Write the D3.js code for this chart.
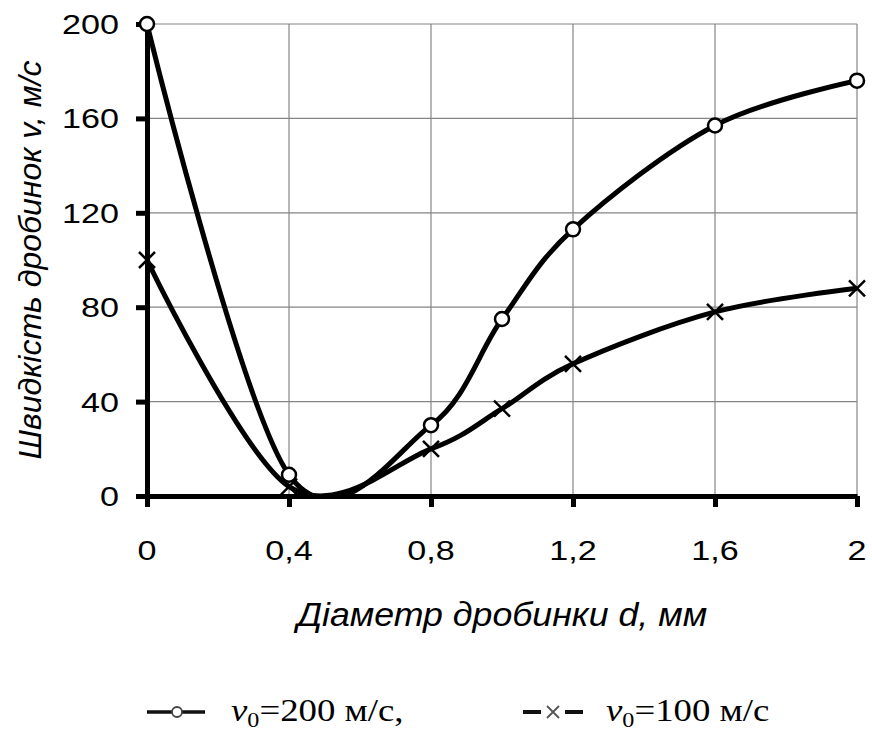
<!DOCTYPE html>
<html>
<head>
<meta charset="utf-8">
<script src="https://cdn.jsdelivr.net/npm/d3@7"></script>
<style>
  body { margin: 0; background: #fff; }
  svg { display: block; }
</style>
</head>
<body>
<div id="chart"></div>
<script>
// data
const diameters = [0, 0.4, 0.8, 1.0, 1.2, 1.6, 2.0];
const speed200 = [200, 9, 30, 75, 113, 157, 176];
const speed100 = [100, 4, 20, 37, 56, 78, 88];
const xTicks = [0, 0.4, 0.8, 1.2, 1.6, 2];
const yTicks = [0, 40, 80, 120, 160, 200];
const xTitle = 'Діаметр дробинки d, мм';
const yTitle = 'Швидкість дробинок v, м/с';
const legendLabels = ['=200 м/с,', '=100 м/с'];

const width = 872, height = 733;
const margin = { top: 24, right: 15, bottom: 237, left: 147 };
const plotW = width - margin.left - margin.right;
const plotH = height - margin.top - margin.bottom;
const STRETCH = 1.22;  // the source image is stretched sideways

const svg = d3.select('#chart').append('svg')
    .attr('width', width)
    .attr('height', height);

const x = d3.scaleLinear().domain([0, 2]).range([0, plotW]);
const y = d3.scaleLinear().domain([0, 200]).range([plotH, 0]);

const g = svg.append('g')
    .attr('transform', `translate(${margin.left},${margin.top})`);

// clip for the smoothed lines (they dip under zero)
svg.append('defs').append('clipPath')
    .attr('id', 'plot-clip')
    .append('rect')
    .attr('x', 0).attr('y', 0)
    .attr('width', plotW).attr('height', plotH);

// grid
g.selectAll('.hgrid')
    .data(yTicks.filter(d => d > 0))
    .join('line')
    .attr('class', 'hgrid')
    .attr('x1', 0).attr('x2', x(2))
    .attr('y1', d => y(d)).attr('y2', d => y(d))
    .attr('stroke', '#858585')
    .attr('stroke-width', 1.2);

g.selectAll('.vgrid')
    .data(xTicks.filter(d => d > 0))
    .join('line')
    .attr('class', 'vgrid')
    .attr('y1', 0).attr('y2', plotH)
    .attr('x1', d => x(d)).attr('x2', d => x(d))
    .attr('stroke', '#858585')
    .attr('stroke-width', 1.2);

// axes
const xAxis = g.append('g')
    .attr('transform', `translate(0,${plotH})`)
    .call(d3.axisBottom(x).tickValues(xTicks).tickSize(11).tickSizeOuter(0).tickFormat(''));
const yAxis = g.append('g')
    .call(d3.axisLeft(y).tickValues(yTicks).tickSize(11).tickSizeOuter(0).tickFormat(''));
[xAxis, yAxis].forEach(a => {
    a.select('.domain').attr('stroke', '#000').attr('stroke-width', 5);
    a.selectAll('.tick line').attr('stroke', '#000').attr('stroke-width', 5);
});

// stretched text helper
function label(parent, tx, ty, text, opts = {}) {
    return parent.append('text')
        .attr('transform', `translate(${tx},${ty}) ${opts.rotate ? 'rotate(-90) ' : ''}scale(${opts.sx || STRETCH},1)`)
        .attr('text-anchor', opts.anchor || 'middle')
        .attr('font-family', opts.family || 'Liberation Sans, Arial, sans-serif')
        .attr('font-size', opts.size || 28)
        .attr('font-style', opts.italic ? 'italic' : 'normal')
        .attr('fill', '#000')
        .text(text);
}

const fmt = d => String(d).replace('.', ',');
xTicks.forEach(d => label(g, x(d), plotH + 64, fmt(d)));
yTicks.forEach(d => label(g, -28, y(d) + 10, fmt(d), { anchor: 'end' }));

label(svg, margin.left + plotW / 2, 626, xTitle, { italic: true, size: 34, sx: 1.05 });
label(svg, 41, margin.top + plotH / 2, yTitle, { italic: true, size: 32, rotate: true, sx: 1.0 });

// lines
const line = d3.line()
    .x((d, i) => x(diameters[i]))
    .y(d => y(d))
    .curve(d3.curveCardinal.tension(0));

const series = [speed200, speed100];
g.append('g')
    .attr('clip-path', 'url(#plot-clip)')
    .selectAll('path')
    .data(series)
    .join('path')
    .attr('d', line)
    .attr('fill', 'none')
    .attr('stroke', '#000')
    .attr('stroke-width', 5);

// markers
const CROSS = 8;
g.selectAll('.cross')
    .data(speed100)
    .join('path')
    .attr('class', 'cross')
    .attr('transform', (d, i) => `translate(${x(diameters[i])},${y(d)})`)
    .attr('d', `M${-CROSS},${-CROSS}L${CROSS},${CROSS}M${-CROSS},${CROSS}L${CROSS},${-CROSS}`)
    .attr('stroke', '#000')
    .attr('stroke-width', 2.5);

g.selectAll('.circ')
    .data(speed200)
    .join('circle')
    .attr('class', 'circ')
    .attr('cx', (d, i) => x(diameters[i]))
    .attr('cy', d => y(d))
    .attr('r', 7)
    .attr('fill', '#fff')
    .attr('stroke', '#000')
    .attr('stroke-width', 2.5);

// legend
const legY = 712;
const leg = svg.append('g');
// item 1: line with circle
leg.append('line').attr('x1', 147).attr('x2', 205).attr('y1', legY).attr('y2', legY)
    .attr('stroke', '#111').attr('stroke-width', 3.5);
leg.append('circle').attr('cx', 177).attr('cy', legY).attr('r', 5)
    .attr('fill', '#fff').attr('stroke', '#444').attr('stroke-width', 1.8);
// item 2: dashes with cross
leg.append('line').attr('x1', 523).attr('x2', 541).attr('y1', legY).attr('y2', legY)
    .attr('stroke', '#111').attr('stroke-width', 4);
leg.append('line').attr('x1', 565).attr('x2', 583).attr('y1', legY).attr('y2', legY)
    .attr('stroke', '#111').attr('stroke-width', 4);
leg.append('path')
    .attr('transform', `translate(553,${legY})`)
    .attr('d', 'M-6,-6L6,6M-6,6L6,-6')
    .attr('stroke', '#555').attr('stroke-width', 1.8);

[[231, legendLabels[0]], [606, legendLabels[1]]].forEach(([lx, txt]) => {
    const t = leg.append('text')
        .attr('transform', `translate(${lx},${legY + 9}) scale(1.15,1)`)
        .attr('font-family', 'Liberation Serif, Times New Roman, serif')
        .attr('font-size', 32)
        .attr('fill', '#000');
    t.append('tspan').attr('font-style', 'italic').text('v');
    t.append('tspan').attr('font-size', 21).attr('dy', 6).text('0');
    t.append('tspan').attr('dy', -6).text(txt);
});
</script>
</body>
</html>
